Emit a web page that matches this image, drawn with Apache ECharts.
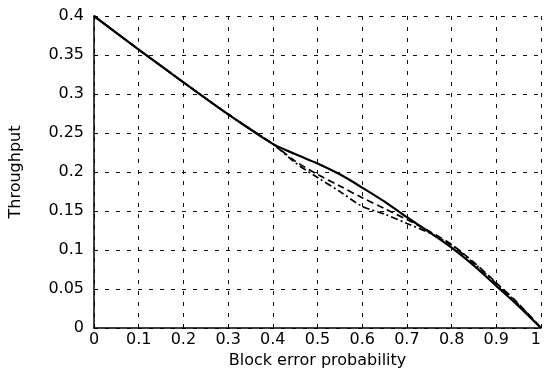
<!DOCTYPE html>
<html>
<head>
<meta charset="utf-8">
<script src="https://cdn.jsdelivr.net/npm/echarts@6/dist/echarts.min.js"></script>
<style>
html,body{margin:0;padding:0;background:#fff;}
#chart{width:544px;height:379px;}
</style>
</head>
<body>
<div id="chart"></div>
<script>
const xValues = [0, 0.1, 0.2, 0.3, 0.4, 0.45, 0.5, 0.55, 0.6, 0.65, 0.7, 0.75, 0.8, 0.85, 0.9, 0.95, 1];
const solidSeries = [0.4, 0.357, 0.315, 0.274, 0.236, 0.223, 0.211, 0.197, 0.180, 0.162, 0.142, 0.123, 0.103, 0.080, 0.054, 0.028, 0];
const dashedSeries = [0.4, 0.357, 0.315, 0.274, 0.236, 0.214, 0.197, 0.182, 0.167, 0.153, 0.139, 0.124, 0.107, 0.084, 0.058, 0.031, 0];
const dashDotSeries = [0.4, 0.357, 0.315, 0.274, 0.236, 0.212, 0.193, 0.175, 0.156, 0.146, 0.134, 0.122, 0.106, 0.083, 0.057, 0.030, 0];
const xTicks = [0, 0.1, 0.2, 0.3, 0.4, 0.5, 0.6, 0.7, 0.8, 0.9, 1];
const yTicks = [0, 0.05, 0.1, 0.15, 0.2, 0.25, 0.3, 0.35, 0.4];

const pairs = s => xValues.map((x, i) => [x, s[i]]);
const font = '"DejaVu Sans", sans-serif';
const gridLine = {show: true, showMinLine: true, showMaxLine: true, lineStyle: {color: '#111', width: 1, type: [4, 7]}};

const chart = echarts.init(document.getElementById('chart'));
chart.setOption({
  animation: false,
  backgroundColor: '#fff',
  grid: {left: 93, right: 2, top: 16, bottom: 51},
  xAxis: {
    type: 'value', min: 0, max: 1, interval: 0.1,
    name: 'Block error probability', nameLocation: 'middle', nameGap: 24,
    nameTextStyle: {fontFamily: font, fontSize: 16, color: '#000'},
    axisLine: {show: true, onZero: false, lineStyle: {color: '#000', width: 1.5}},
    axisTick: {show: true, inside: true, length: 4, lineStyle: {color: '#000'}},
    axisLabel: {fontFamily: font, fontSize: 16, color: '#000', margin: 4, alignMaxLabel: 'right',
      formatter: v => { const t = xTicks.find(k => Math.abs(k - v) < 1e-9); return t === undefined ? '' : String(t); }},
    splitLine: gridLine
  },
  yAxis: {
    type: 'value', min: 0, max: 0.4, interval: 0.05,
    name: 'Throughput', nameLocation: 'middle', nameGap: 70,
    nameTextStyle: {fontFamily: font, fontSize: 16, color: '#000'},
    axisLine: {show: true, onZero: false, lineStyle: {color: '#000', width: 1.5}},
    axisTick: {show: true, inside: true, length: 4, lineStyle: {color: '#000'}},
    axisLabel: {fontFamily: font, fontSize: 16, color: '#000', margin: 10,
      formatter: v => { const t = yTicks.find(k => Math.abs(k - v) < 1e-9); return t === undefined ? '' : String(t); }},
    splitLine: gridLine
  },
  series: [
    {type: 'line', data: pairs(solidSeries), showSymbol: false, smooth: 0.3,
      lineStyle: {color: '#000', width: 2.2, type: 'solid'}},
    {type: 'line', data: pairs(dashedSeries), showSymbol: false, smooth: 0.3,
      lineStyle: {color: '#000', width: 1.7, type: [7, 4]}},
    {type: 'line', data: pairs(dashDotSeries), showSymbol: false, smooth: 0.3,
      lineStyle: {color: '#000', width: 1.7, type: [7, 3, 2, 3]}}
  ]
});
</script>
</body>
</html>
